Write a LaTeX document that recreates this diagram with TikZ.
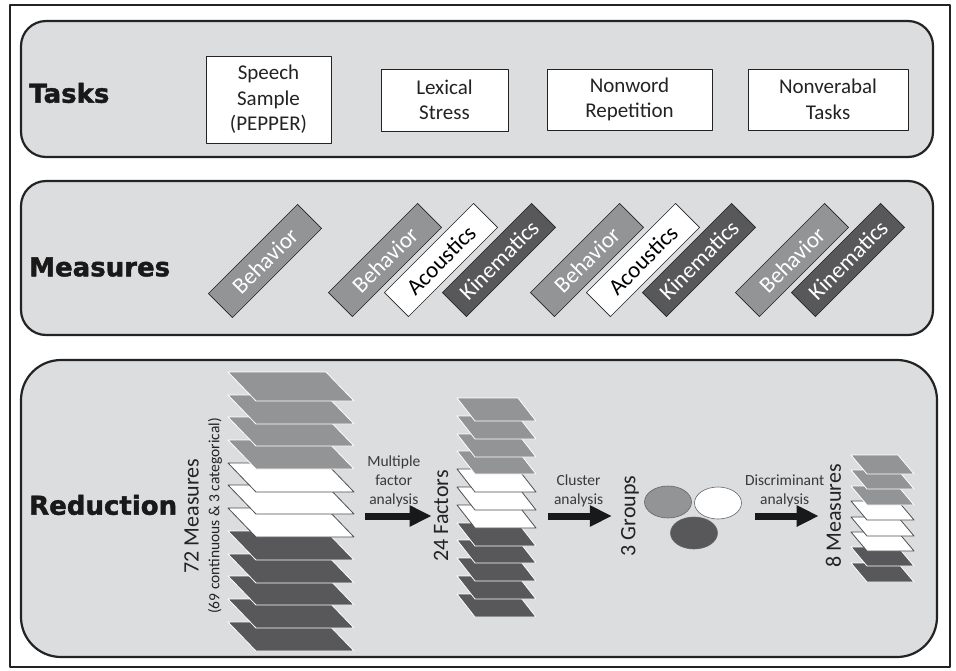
\documentclass[tikz,border=0pt]{standalone}
\usepackage{fontspec}
\setmainfont{Carlito}
\newfontfamily\headfont{DejaVu Sans}[BoldFeatures={FakeBold=1.6}]
\usepackage{tikz}
\usetikzlibrary{arrows.meta}
\usetikzlibrary{shapes.geometric}
\definecolor{panelgray}{RGB}{220,221,223}
\definecolor{midgray}{RGB}{147,148,150}
\definecolor{deepgray}{RGB}{88,88,90}
\definecolor{inkgray}{RGB}{35,35,35}

\begin{document}
\begin{tikzpicture}[line cap=round,line join=round,x=1pt,y=-1pt,
  panel/.style={draw=inkgray,line width=2.2pt,fill=panelgray,rounded corners=25pt},
  heading/.style={anchor=west,inner sep=0pt,font=\headfont\bfseries\fontsize{26}{30}\selectfont,text=black!90},
  taskbox/.style={draw=inkgray,line width=0.8pt,fill=white,align=center,inner sep=0pt,font=\fontsize{21}{25.5}\selectfont,text=inkgray},
  bar/.style={rotate=45,minimum width=126pt,minimum height=34pt,inner sep=0pt,draw=inkgray,line width=0.6pt,font=\fontsize{23}{26}\selectfont},
  behbar/.style={bar,fill=midgray,text=white},
  acobar/.style={bar,fill=white,text=black},
  kinbar/.style={bar,fill=deepgray,text=white},
  greylayer/.style={fill=midgray,draw=white,line width=0.8pt},
  whitelayer/.style={fill=white,draw=inkgray!80,line width=0.8pt},
  darklayer/.style={fill=deepgray,draw=white,line width=0.8pt},
  stacklabel/.style={rotate=90,inner sep=0pt,font=\fontsize{22}{26}\selectfont,text=inkgray},
  bigarrow/.style={line width=7pt,line cap=butt,-{Triangle[length=22pt,width=20pt]},draw=black!90},
  arrowlabel/.style={pos=0.42,above=6pt,inner sep=0pt,align=center,font=\fontsize{15.5}{19}\selectfont,text=inkgray!90},
  group/.style={ellipse,draw=inkgray!70,line width=0.6pt,minimum width=47pt,minimum height=32pt}]
\useasboundingbox (0,0) rectangle (956,670);
\draw[line width=1.8pt,draw=inkgray] (10,5) rectangle (950,667);
% panels
\draw[panel] (21,21) rectangle (933,157);
\draw[panel] (21,181) rectangle (933,335);
\draw[panel,rounded corners=40pt] (21,360) rectangle (937,657);
\node[heading] (tasks) at (29,93) {Tasks};
\node[heading] (measures) at (29,267) {Measures};
\node[heading] (reduction) at (29,505) {Reduction};
% tasks
\node[taskbox,minimum width=125pt,minimum height=87pt] (speech) at (268.5,99.5) {Speech\\Sample\\(PEPPER)};
\node[taskbox,minimum width=127pt,minimum height=62pt] (lexical) at (444.5,100) {Lexical\\Stress};
\node[taskbox,minimum width=165pt,minimum height=61pt] (nonword) at (629.5,99.5) {Nonword\\Repetition};
\node[taskbox,minimum width=160pt,minimum height=61pt] (nonverbal) at (828,99.5) {Nonverabal\\Tasks};
% measures
\node[behbar] (beh1) at (265,261) {Behavior};
\node[behbar] (beh2) at (385,260) {Behavior};
\node[acobar] (aco2) at (441,260) {Acoustics};
\node[kinbar] (kin2) at (499,260) {Kinematics};
\node[behbar] (beh3) at (587,260) {Behavior};
\node[acobar] (aco3) at (643,260) {Acoustics};
\node[kinbar] (kin3) at (699,260) {Kinematics};
\node[behbar] (beh4) at (792,260) {Behavior};
\node[kinbar] (kin4) at (848,260) {Kinematics};
% 72 measures stack
\filldraw[darklayer] (228,622) -- ++(98,0) -- ++(28,29) -- ++(-98,0) -- cycle;
\filldraw[darklayer] (228,599) -- ++(98,0) -- ++(28,29) -- ++(-98,0) -- cycle;
\filldraw[darklayer] (228,576) -- ++(98,0) -- ++(28,29) -- ++(-98,0) -- cycle;
\filldraw[darklayer] (228,554) -- ++(98,0) -- ++(28,29) -- ++(-98,0) -- cycle;
\filldraw[darklayer] (228,531) -- ++(98,0) -- ++(28,29) -- ++(-98,0) -- cycle;
\filldraw[whitelayer] (228,508) -- ++(98,0) -- ++(28,29) -- ++(-98,0) -- cycle;
\filldraw[whitelayer] (228,485) -- ++(98,0) -- ++(28,29) -- ++(-98,0) -- cycle;
\filldraw[whitelayer] (228,463) -- ++(98,0) -- ++(28,29) -- ++(-98,0) -- cycle;
\filldraw[greylayer] (228,440) -- ++(98,0) -- ++(28,29) -- ++(-98,0) -- cycle;
\filldraw[greylayer] (228,417) -- ++(98,0) -- ++(28,29) -- ++(-98,0) -- cycle;
\filldraw[greylayer] (228,395) -- ++(98,0) -- ++(28,29) -- ++(-98,0) -- cycle;
\filldraw[greylayer] (228,372) -- ++(98,0) -- ++(28,29) -- ++(-98,0) -- cycle;
% 24 factors stack
\filldraw[darklayer] (457,594) -- ++(61,0) -- ++(18,23) -- ++(-61,0) -- cycle;
\filldraw[darklayer] (457,576) -- ++(61,0) -- ++(18,23) -- ++(-61,0) -- cycle;
\filldraw[darklayer] (457,558) -- ++(61,0) -- ++(18,23) -- ++(-61,0) -- cycle;
\filldraw[darklayer] (457,540) -- ++(61,0) -- ++(18,23) -- ++(-61,0) -- cycle;
\filldraw[darklayer] (457,523) -- ++(61,0) -- ++(18,23) -- ++(-61,0) -- cycle;
\filldraw[whitelayer] (457,505) -- ++(61,0) -- ++(18,23) -- ++(-61,0) -- cycle;
\filldraw[whitelayer] (457,487) -- ++(61,0) -- ++(18,23) -- ++(-61,0) -- cycle;
\filldraw[whitelayer] (457,469) -- ++(61,0) -- ++(18,23) -- ++(-61,0) -- cycle;
\filldraw[greylayer] (457,451) -- ++(61,0) -- ++(18,23) -- ++(-61,0) -- cycle;
\filldraw[greylayer] (457,434) -- ++(61,0) -- ++(18,23) -- ++(-61,0) -- cycle;
\filldraw[greylayer] (457,416) -- ++(61,0) -- ++(18,23) -- ++(-61,0) -- cycle;
\filldraw[greylayer] (457,398) -- ++(61,0) -- ++(18,23) -- ++(-61,0) -- cycle;
% 8 measures stack
\filldraw[darklayer] (851,563) -- ++(47,0) -- ++(16,19) -- ++(-47,0) -- cycle;
\filldraw[darklayer] (851,547) -- ++(47,0) -- ++(16,19) -- ++(-47,0) -- cycle;
\filldraw[whitelayer] (851,532) -- ++(47,0) -- ++(16,19) -- ++(-47,0) -- cycle;
\filldraw[whitelayer] (851,517) -- ++(47,0) -- ++(16,19) -- ++(-47,0) -- cycle;
\filldraw[whitelayer] (851,501) -- ++(47,0) -- ++(16,19) -- ++(-47,0) -- cycle;
\filldraw[greylayer] (851,486) -- ++(47,0) -- ++(16,19) -- ++(-47,0) -- cycle;
\filldraw[greylayer] (851,470) -- ++(47,0) -- ++(16,19) -- ++(-47,0) -- cycle;
\filldraw[greylayer] (851,455) -- ++(47,0) -- ++(16,19) -- ++(-47,0) -- cycle;
% stack labels
\node[stacklabel] (m72) at (191.5,516) {72 Measures};
\node[stacklabel,font=\fontsize{15.5}{18}\selectfont] (m72sub) at (215,516) {(69 continuous \& 3 categorical)};
\node[stacklabel] (f24) at (441,516) {24 Factors};
\node[stacklabel] (g3) at (630,516) {3 Groups};
\node[stacklabel] (m8) at (833.5,516) {8 Measures};
% groups
\node[group,fill=midgray] (grpa) at (668,502) {};
\node[group,fill=white] (grpb) at (718,503) {};
\node[group,fill=deepgray] (grpc) at (694,533) {};
% arrows
\coordinate (mfa) at (365,516);
\coordinate (cla) at (548,516);
\coordinate (dca) at (755,516);
\draw[bigarrow,shorten >=2pt] (mfa) -- (f24.north) node[arrowlabel] {Multiple\\factor\\analysis};
\draw[bigarrow,shorten >=9pt] (cla) -- (g3.north) node[arrowlabel] {Cluster\\analysis};
\draw[bigarrow,shorten >=7pt] (dca) -- (m8.north) node[arrowlabel] {Discriminant\\analysis};
\end{tikzpicture}
\end{document}
